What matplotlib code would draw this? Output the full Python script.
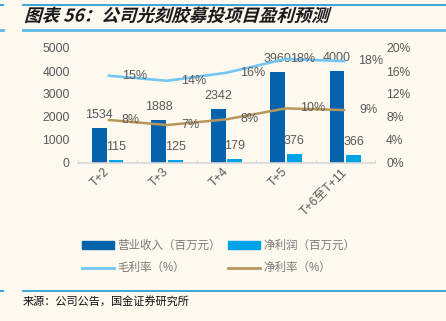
import matplotlib
matplotlib.use("Agg")
import matplotlib.pyplot as plt
import numpy as np
from matplotlib.lines import Line2D
from matplotlib.patches import Patch, PathPatch
from matplotlib.textpath import TextPath
from matplotlib.font_manager import FontProperties
from matplotlib.transforms import Affine2D

plt.rcParams['font.family'] = ['Liberation Sans', 'Noto Sans CJK SC', 'DejaVu Sans']

# data
periods = ["T+2", "T+3", "T+4", "T+5", "T+6至T+11"]
revenue = [1534, 1888, 2342, 3960, 4000]          # 营业收入（百万元）
net_profit = [115, 125, 179, 376, 366]             # 净利润（百万元）
gross_margin = [15.2, 14.3, 15.7, 18.1, 17.7]      # 毛利率（%）
net_margin = [7.5, 6.6, 7.6, 9.5, 9.2]             # 净利率（%）

title = "图表 56：公司光刻胶募投项目盈利预测"
source = "来源：公司公告，国金证券研究所"

bg = '#FDF9EF'
c_rev = '#0563AE'
c_np = '#00A2E8'
c_gm = '#73C6F2'
c_nm = '#B9975B'
c_txt = '#595959'

W, H = 446, 321
fig = plt.figure(figsize=(W / 100, H / 100), dpi=100, facecolor=bg)
ax = fig.add_axes([78 / W, 1 - 163 / H, (375 - 78) / W, (163 - 48) / H])
ax.set_facecolor(bg)
ax2 = ax.twinx()

x = np.arange(len(periods))
bw = 0.25
ax.bar(x - 0.14, revenue, bw, color=c_rev, zorder=2)
ax.bar(x + 0.14, net_profit, bw, color=c_np, zorder=2)

for xi, v in zip(x, revenue):
    ax.annotate(str(v), (xi - 0.14, v), xytext=(0, 13), textcoords='offset pixels',
                ha='center', va='center', fontsize=9, color=c_txt)
for xi, v in zip(x, net_profit):
    ax.annotate(str(v), (xi + 0.14, v), xytext=(0, 13), textcoords='offset pixels',
                ha='center', va='center', fontsize=9, color=c_txt)

ax2.plot(x, gross_margin, color=c_gm, lw=1.9, solid_capstyle='butt', zorder=3)
ax2.plot(x, net_margin, color=c_nm, lw=1.8, solid_capstyle='butt', zorder=3)
gm_dx = [14, 14, 14, 4, 13]
for xi, v, dx in zip(x, gross_margin, gm_dx):
    ax2.annotate(f"{v:.0f}%", (xi, v), xytext=(dx, 0), textcoords='offset pixels',
                 ha='left', va='center', fontsize=9, color=c_txt)
for xi, v in zip(x, net_margin):
    ax2.annotate(f"{v:.0f}%", (xi, v), xytext=(14, 0), textcoords='offset pixels',
                 ha='left', va='center', fontsize=9, color=c_txt)

ax.set_xlim(-0.5, len(periods) - 0.5)
ax.set_ylim(0, 5000)
ax.set_yticks(range(0, 5001, 1000))
ax2.set_ylim(0, 20)
ax2.set_yticks(range(0, 21, 4))
ax2.set_yticklabels([f"{t}%" for t in range(0, 21, 4)])

for a in (ax, ax2):
    for s in a.spines.values():
        s.set_visible(False)
ax.spines['bottom'].set_visible(True)
ax.spines['bottom'].set_color('#D9D9D9')
ax.spines['bottom'].set_linewidth(1.2)

ax.tick_params(axis='y', length=0, pad=6, labelsize=8.7, labelcolor=c_txt)
ax2.tick_params(axis='y', length=0, pad=8, labelsize=8.7, labelcolor=c_txt)
ax.set_xticks(x)
ax.set_xticklabels(periods)
ax.set_xticks(np.arange(-0.5, len(periods)), minor=True)
ax.tick_params(axis='x', which='major', length=0, pad=5, labelsize=8.8, labelcolor=c_txt)
ax.tick_params(axis='x', which='minor', length=3, direction='in', color='#D9D9D9')
for lab in ax.get_xticklabels():
    lab.set_rotation(45)
    lab.set_ha('right')
    lab.set_va('center')
    lab.set_rotation_mode('anchor')

# legend is filled column by column: row 1 = bars, row 2 = lines
handles = [Patch(color=c_rev), Line2D([], [], color=c_gm, lw=2),
           Patch(color=c_np), Line2D([], [], color=c_nm, lw=2)]
labels = ["营业收入（百万元）", "毛利率（%）", "净利润（百万元）", "净利率（%）"]
leg = fig.legend(handles, labels, ncol=2, loc='upper left',
                 bbox_to_anchor=(82 / W, 1 - 240 / H), frameon=False,
                 fontsize=8.3, handlelength=2.75, handleheight=0.6,
                 handletextpad=0.35, columnspacing=0.6, labelspacing=0.9,
                 borderpad=0, borderaxespad=0)
for t in leg.get_texts():
    t.set_color('#7A7A7A')

# header / footer rules
for yy, lw, col in [(4.5, 1.3, '#2A9FDA'), (29.5, 2.0, '#5DB9E8'), (291, 1.3, '#2A9FDA')]:
    fig.add_artist(Line2D([23 / W, 1], [1 - yy / H] * 2, color=col, lw=lw))
    fig.add_artist(Line2D([0, 3 / W], [1 - yy / H] * 2, color=col, lw=lw))

# italic bold title (CJK font has no italic, so shear the text path)
fp = FontProperties(family='Noto Sans CJK SC', weight='bold', size=12.6)
tp = TextPath((0, 0), title, prop=fp)
tr = Affine2D().skew_deg(16, 0).scale(100 / 72).translate(24, H - 21.5)
fig.add_artist(PathPatch(tp, transform=tr, color='#1A1A1A', lw=0))

fig.text(23 / W, 1 - 301 / H, source, fontsize=8, color='#111111',
         family=['Noto Sans CJK SC'], va='center', ha='left')

fig.savefig("out.png", dpi=100, facecolor=bg)
